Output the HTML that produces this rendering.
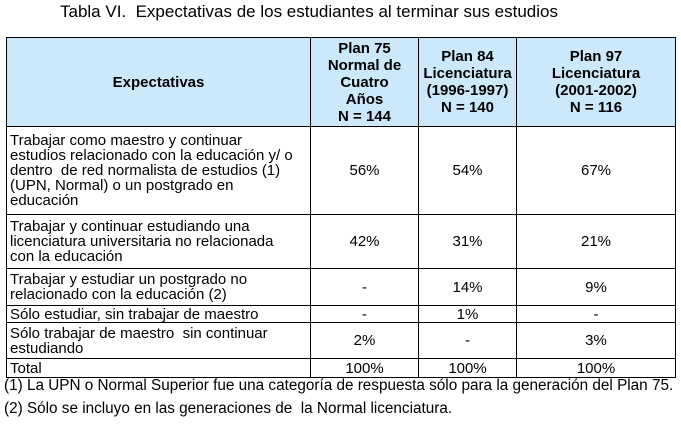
<!DOCTYPE html>
<html><head><meta charset="utf-8"><style>
body{margin:0;width:681px;height:424px;background:#fff;font-family:"Liberation Sans",Arial,sans-serif;color:#000;position:relative;overflow:hidden}
.title{position:absolute;left:60px;top:2px;font-size:17px;white-space:nowrap}
table{position:absolute;left:6px;top:37px;border-collapse:collapse;table-layout:fixed;width:669px;font-size:15px;line-height:15px}
td,th{border:1px solid #000;padding:0 0 0 3px;vertical-align:middle;white-space:nowrap;overflow:hidden}
th{background:#cce9fb;font-weight:bold;text-align:center;padding:0;line-height:17px}
td.v{text-align:center;padding:0}
.fn{position:absolute;left:4px;font-size:15.3px;white-space:nowrap}
</style></head><body>
<div class="title">Tabla VI.&nbsp; Expectativas de los estudiantes al terminar sus estudios</div>
<table>
<colgroup><col style="width:304px"><col style="width:108px"><col style="width:98px"><col style="width:159px"></colgroup>
<tr style="height:89px">
<th>Expectativas</th>
<th>Plan 75<br>Normal de<br>Cuatro<br>Años<br>N = 144</th>
<th>Plan 84<br>Licenciatura<br>(1996-1997)<br>N = 140</th>
<th>Plan 97<br>Licenciatura<br>(2001-2002)<br>N = 116</th>
</tr>
<tr style="height:88px">
<td>Trabajar como maestro y continuar<br>estudios relacionado con la educación y/ o<br>dentro&nbsp; de red normalista de estudios (1)<br>(UPN, Normal) o un postgrado en<br>educación</td>
<td class="v">56%</td><td class="v">54%</td><td class="v">67%</td></tr>
<tr style="height:54px">
<td>Trabajar y continuar estudiando una<br>licenciatura universitaria no relacionada<br>con la educación</td>
<td class="v">42%</td><td class="v">31%</td><td class="v">21%</td></tr>
<tr style="height:37px">
<td>Trabajar y estudiar un postgrado no<br>relacionado con la educación (2)</td>
<td class="v">-</td><td class="v">14%</td><td class="v">9%</td></tr>
<tr style="height:17px">
<td>Sólo estudiar, sin trabajar de maestro</td>
<td class="v">-</td><td class="v">1%</td><td class="v">-</td></tr>
<tr style="height:36px">
<td>Sólo trabajar de maestro&nbsp; sin continuar<br>estudiando</td>
<td class="v">2%</td><td class="v">-</td><td class="v">3%</td></tr>
<tr style="height:19px">
<td>Total</td>
<td class="v">100%</td><td class="v">100%</td><td class="v">100%</td></tr>
</table>
<div class="fn" style="top:377px">(1) La UPN o Normal Superior fue una categoría de respuesta sólo para la generación del Plan 75.</div>
<div class="fn" style="top:400px">(2) Sólo se incluyo en las generaciones de&nbsp; la Normal licenciatura.</div>
</body></html>
